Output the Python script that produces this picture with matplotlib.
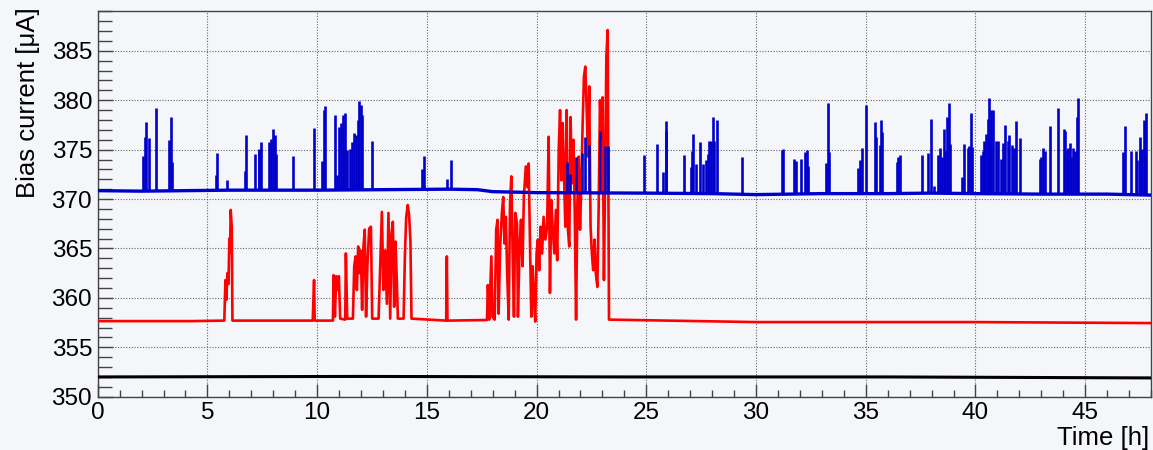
import numpy as np
import matplotlib
matplotlib.use("Agg")
import matplotlib.pyplot as plt
from matplotlib.ticker import MultipleLocator

plt.rcParams['font.family'] = ['Liberation Sans', 'DejaVu Sans']

# ---- blue channel: slowly drifting baseline plus short current spikes ----
blue_base_t = [0, 2, 4, 6, 10, 13, 16, 17.3, 18, 20, 23, 25, 28, 30, 33, 36, 38, 40, 43, 46, 48]
blue_base_v = [370.85, 370.8, 370.85, 370.9, 370.9, 370.95, 371.0, 370.95, 370.75, 370.65,
               370.62, 370.6, 370.55, 370.45, 370.55, 370.55, 370.6, 370.55, 370.5, 370.5, 370.4]

blue_spike_t = [2.08, 2.16, 2.20, 2.32, 2.66, 3.27, 3.33, 3.37, 5.37, 5.44, 5.88, 6.72, 6.75,
                7.19, 7.33, 7.36, 7.43, 7.81, 7.90, 7.98, 8.06, 8.13, 8.88, 9.85, 10.21, 10.31,
                10.38, 10.82, 10.91, 11.00, 11.09, 11.20, 11.28, 11.35, 11.50, 11.61, 11.69,
                11.76, 11.84, 11.90, 11.98, 12.04, 12.50, 14.77, 14.89, 15.91, 16.11,
                21.40, 21.54, 21.80, 22.07, 22.22, 22.37, 22.90, 23.10, 23.24,
                24.90, 25.50, 25.76, 25.89, 25.92, 26.72, 27.04, 27.10, 27.13, 27.25, 27.44,
                27.59, 27.74, 27.80, 27.88, 27.95, 28.02, 28.10, 28.20, 29.38,
                31.19, 31.25, 31.74, 31.80, 32.03, 32.25, 32.33, 32.36, 33.21, 33.27, 33.33,
                34.64, 34.76, 34.84, 35.00, 35.40, 35.47, 35.64, 35.70, 35.75, 36.43, 36.49,
                36.56, 37.58, 37.82, 37.97, 38.13, 38.30, 38.40, 38.48, 38.56, 38.63, 38.71,
                38.79, 38.83, 39.38, 39.47, 39.65, 39.72, 39.78, 39.85, 40.26, 40.35, 40.40,
                40.49, 40.55, 40.60, 40.67, 40.73, 40.81, 40.93, 41.04, 41.16, 41.24, 41.36,
                41.48, 41.55, 41.65, 41.74, 41.83, 42.03, 42.92, 43.00, 43.07, 43.16, 43.42,
                43.77, 44.03, 44.09, 44.17, 44.23, 44.30, 44.37, 44.46, 44.53, 44.63, 44.69,
                46.73, 46.80, 47.07, 47.30, 47.38, 47.48, 47.50, 47.57, 47.68, 47.72, 47.79]
blue_spike_v = [374.4, 376.3, 377.75, 376.2, 379.2, 376.0, 378.3, 373.7, 372.4, 374.7, 371.9, 372.8, 376.5,
                374.6, 375.0, 375.1, 375.8, 375.8, 376.1, 377.05, 376.5, 374.6, 374.4, 377.2, 373.9, 379.0,
                379.4, 378.5, 372.4, 377.3, 377.7, 378.5, 378.7, 375.0, 375.1, 375.8, 376.7,
                376.5, 378.0, 379.9, 379.5, 378.5, 375.9, 373.0, 374.4, 372.0, 374.0,
                373.8, 372.5, 374.3, 374.7, 376.3, 375.5, 376.9, 375.4, 375.4,
                374.5, 375.6, 372.7, 376.9, 377.9, 374.5, 373.2, 374.9, 376.6, 373.5, 375.8,
                373.5, 374.0, 374.6, 375.9, 375.9, 378.3, 375.9, 378.0, 374.3,
                375.0, 375.1, 374.1, 373.9, 374.1, 374.8, 375.0, 373.3, 373.6, 379.7, 374.8,
                373.1, 374.0, 375.2, 379.5, 377.8, 376.3, 375.5, 378.0, 376.8, 373.8, 374.3,
                374.5, 374.5, 374.7, 378.1, 371.3, 374.5, 375.2, 374.3, 377.05, 374.9, 378.3,
                379.7, 375.6, 372.2, 375.6, 375.2, 375.4, 378.7, 375.3, 374.5, 374.9, 375.9,
                376.6, 378.1, 380.2, 376.5, 379.0, 379.0, 375.9, 375.9, 374.1, 375.7, 377.5,
                375.9, 376.5, 375.5, 375.2, 377.9, 376.2, 374.1, 374.3, 375.2, 374.9, 377.4,
                379.2, 377.05, 376.9, 375.0, 375.2, 375.7, 374.3, 375.2, 374.9, 378.3, 380.2,
                374.8, 377.4, 374.9, 374.9, 374.0, 375.0, 376.3, 375.1, 378.0, 377.7, 378.7]

# ---- red channel: flat level with bursts of instability ----
red_t = [0.0, 4.3, 5.77,
         5.82, 5.86, 5.91, 5.96, 6.00, 6.03, 6.06, 6.11, 6.14,
         9.80, 9.86, 9.89,
         10.72, 10.75, 10.81, 10.87, 10.93, 10.99, 11.05,
         11.28, 11.31, 11.37,
         11.63, 11.69, 11.75, 11.81, 11.87, 11.93, 11.99, 12.05, 12.11, 12.17, 12.23,
         12.29, 12.37, 12.45, 12.51,
         12.80, 12.87, 12.95, 13.02, 13.10, 13.18, 13.25, 13.33, 13.39, 13.45, 13.51,
         13.57, 13.63, 13.68,
         13.94, 14.00, 14.06, 14.13, 14.19, 14.25, 14.30,
         15.88, 15.91, 15.94,
         17.74, 17.78, 17.84, 17.94, 17.99, 18.09, 18.16, 18.22, 18.27, 18.34, 18.42,
         18.48, 18.54, 18.60, 18.66, 18.73, 18.79, 18.85, 18.91, 18.97, 19.03, 19.11,
         19.15, 19.23, 19.29, 19.36, 19.42, 19.51, 19.58, 19.64, 19.70, 19.76, 19.82,
         19.88, 19.94, 20.00, 20.06, 20.12, 20.18, 20.25, 20.32, 20.40, 20.48, 20.55,
         20.61, 20.67, 20.73, 20.81, 20.88, 20.94, 21.01, 21.07, 21.13, 21.19, 21.25,
         21.31, 21.37, 21.43, 21.49, 21.55, 21.61, 21.68, 21.74, 21.80, 21.86, 21.92,
         21.98, 22.04, 22.10, 22.16, 22.22, 22.28, 22.34, 22.40, 22.46, 22.52, 22.58,
         22.64, 22.70, 22.77, 22.83, 22.89, 22.95, 23.01, 23.07, 23.13, 23.18, 23.24,
         23.30, 30.0, 40.0, 48.0]
red_v = [357.65, 357.65, 357.7,
         361.8, 359.8, 362.5, 361.4, 366.0, 364.6, 368.9, 367.2, 357.7,
         357.7, 361.8, 357.7,
         357.7, 362.3, 358.1, 362.2, 360.8, 362.2, 357.9,
         357.8, 364.5, 357.9,
         357.9, 363.2, 364.2, 360.8, 365.2, 362.5, 364.8, 358.8, 365.2, 366.9, 358.1,
         363.2, 367.0, 367.2, 357.9,
         357.9, 362.8, 368.7, 360.8, 364.8, 359.4, 368.6, 357.9, 366.5, 367.7, 359.1,
         365.7, 361.8, 357.9,
         357.9, 364.3, 368.2, 369.4, 368.4, 365.9, 357.9,
         357.7, 364.2, 357.7,
         357.76, 361.3, 357.8, 364.2, 358.1, 357.8, 366.9, 367.9, 358.4, 365.2, 368.6,
         370.2, 365.5, 368.2, 362.5, 357.8, 369.6, 372.3, 364.5, 358.1, 368.6, 367.5,
         358.1, 365.5, 367.9, 363.2, 370.2, 373.3, 371.2, 373.6, 365.5, 358.1, 363.2,
         359.8, 357.6, 364.5, 365.9, 362.8, 367.2, 364.5, 368.2, 365.9, 367.2, 376.3,
         360.5, 369.9, 367.2, 364.5, 368.9, 363.8, 375.0, 379.0, 371.9, 377.7, 372.6,
         367.2, 379.0, 366.9, 365.2, 378.3, 371.6, 376.0, 368.6, 357.8, 369.6, 374.3,
         366.9, 371.6, 377.7, 382.4, 383.4, 379.3, 374.3, 381.4, 367.2, 364.5, 362.8,
         365.9, 362.5, 361.1, 369.2, 380.0, 376.0, 380.3, 361.8, 373.3, 384.4, 387.1,
         357.8, 357.55, 357.55, 357.45]

# ---- black channel: stable reference ----
black_t = [0, 12, 24, 36, 48]
black_v = [352.0, 352.05, 352.0, 352.0, 351.9]

x_ticks = [0, 5, 10, 15, 20, 25, 30, 35, 40, 45]
y_ticks = [350, 355, 360, 365, 370, 375, 380, 385]

bg = '#f4f6fa'
W, H = 1153, 450
fig = plt.figure(figsize=(W / 100, H / 100), dpi=100, facecolor=bg)
ax = fig.add_axes([97.7 / W, 1 - 396.7 / H, (1151 - 97.7) / W, (396.7 - 11.3) / H])
ax.set_facecolor(bg)

ax.plot(black_t, black_v, color='black', lw=2.2, zorder=3)
ax.plot(red_t, red_v, color='#ff0000', lw=1.9, zorder=3)

feet = np.interp(blue_spike_t, blue_base_t, blue_base_v)
ax.vlines(blue_spike_t, feet, blue_spike_v, color='#0000cc', lw=1.9, zorder=4)
ax.plot(blue_base_t, blue_base_v, color='#0000cc', lw=2.4, zorder=4)

ax.set_xlim(0, 48)
ax.set_ylim(350, 389)
ax.set_xticks(x_ticks)
ax.set_yticks(y_ticks)
ax.xaxis.set_minor_locator(MultipleLocator(1))
ax.yaxis.set_minor_locator(MultipleLocator(1))
ax.tick_params(which='both', direction='in', colors='#444444', labelcolor='black',
               labelsize=17.5, top=False, right=False)
ax.tick_params(axis='x', which='major', length=9.4, width=1, pad=4)
ax.tick_params(axis='x', which='minor', length=5, width=1)
ax.tick_params(axis='y', which='major', length=10.8, width=1, pad=4)
ax.tick_params(axis='y', which='minor', length=10, width=1)
ax.grid(True, which='major', color='#666666', lw=0.8, linestyle=(0, (1, 1.5)))
ax.set_axisbelow(True)
for s in ax.spines.values():
    s.set_color('#444444')
    s.set_linewidth(1)

fig.text(28 / W, 1 - 7 / H, 'Bias current [\u03bcA]', rotation=90, ha='center', va='top',
         fontsize=18.5)
fig.text(1149 / W, 1 - 445 / H, 'Time [h]', ha='right', va='baseline', fontsize=18.5)

fig.savefig('out.png', dpi=100, facecolor=bg)
